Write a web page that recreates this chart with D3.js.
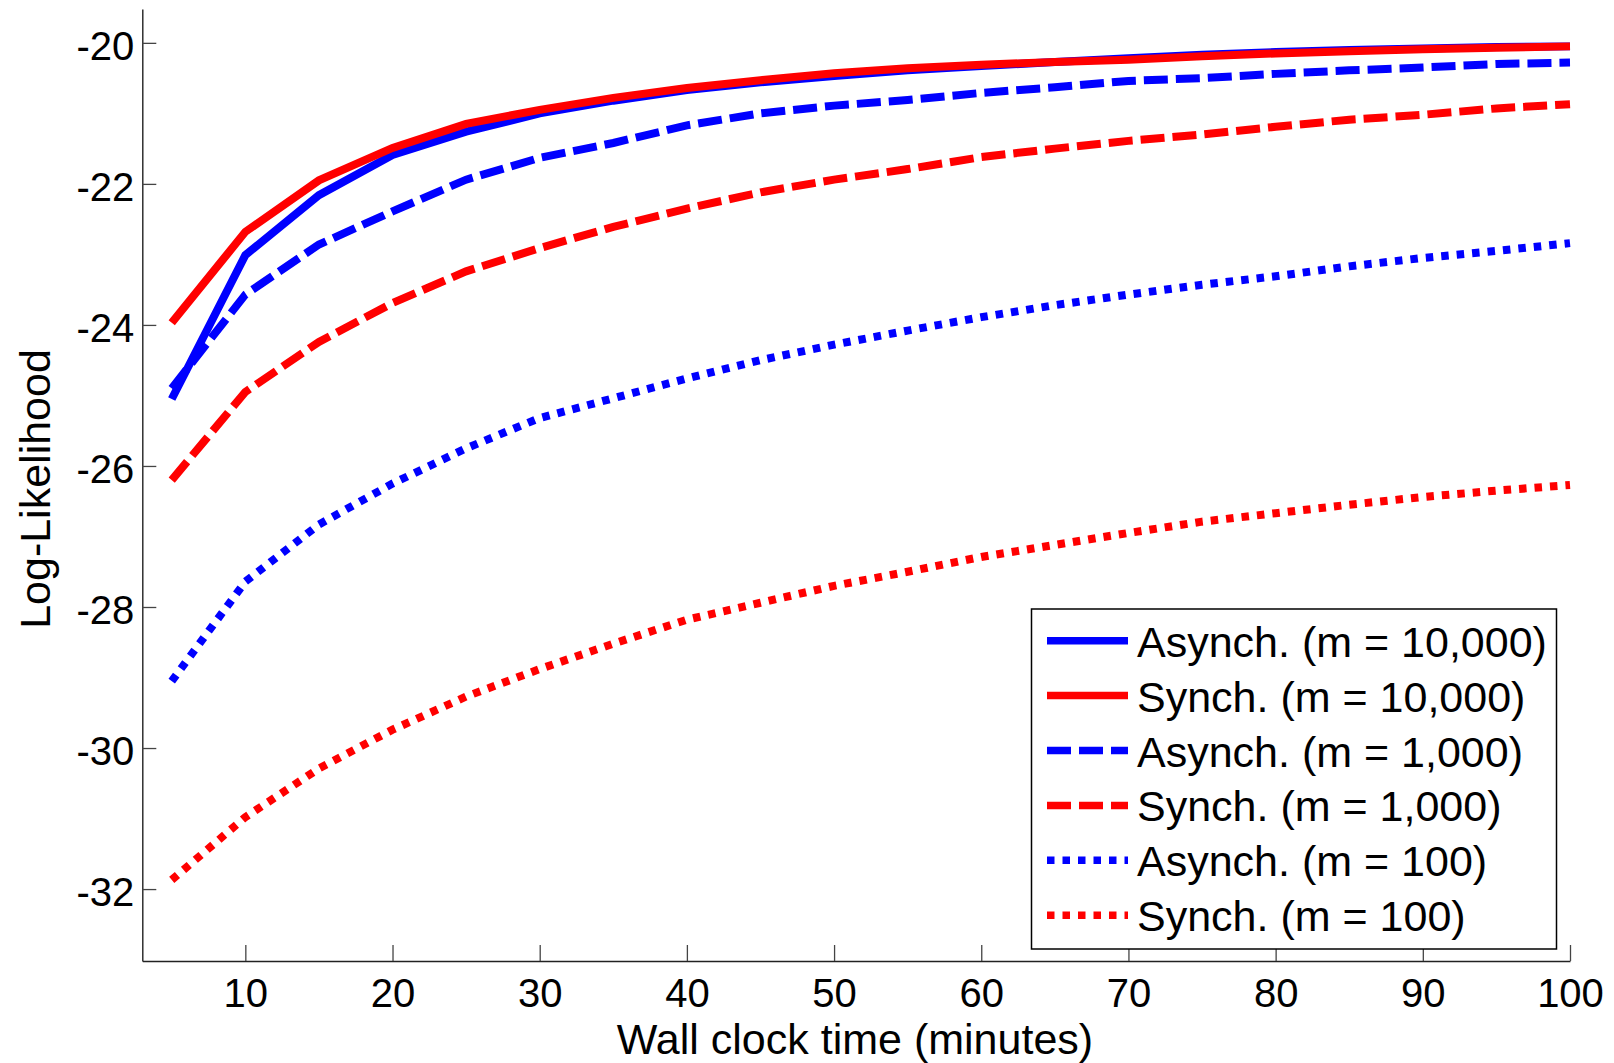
<!DOCTYPE html>
<html>
<head>
<meta charset="utf-8">
<script src="https://cdn.jsdelivr.net/npm/d3@7"></script>
<style>
	body { margin: 0; background: #fff; }
	svg { display: block; font-family: "Liberation Sans", Arial, sans-serif; }
</style>
</head>
<body>
<div id="chart"></div>
<script>
// chart data
var minutes = [5, 10, 15, 20, 25, 30, 35, 40, 45, 50, 55, 60, 65, 70, 75, 80, 85, 90, 95, 100];

var asyncM10000 = [-25.05, -23.01, -22.16, -21.59, -21.26, -21.00, -20.82, -20.67, -20.56, -20.47,
	-20.39, -20.33, -20.27, -20.22, -20.17, -20.13, -20.10, -20.08, -20.06, -20.05];
var syncM10000 = [-23.97, -22.68, -21.95, -21.49, -21.15, -20.95, -20.78, -20.64, -20.53, -20.43,
	-20.36, -20.31, -20.27, -20.24, -20.19, -20.15, -20.12, -20.09, -20.07, -20.05];
var asyncM1000 = [-24.90, -23.57, -22.86, -22.39, -21.94, -21.63, -21.42, -21.17, -21.00, -20.89,
	-20.81, -20.71, -20.63, -20.54, -20.50, -20.44, -20.39, -20.35, -20.30, -20.28];
var syncM1000 = [-26.20, -24.95, -24.24, -23.69, -23.24, -22.91, -22.61, -22.35, -22.12, -21.94,
	-21.79, -21.62, -21.50, -21.39, -21.30, -21.19, -21.09, -21.02, -20.93, -20.87];
var asyncM100 = [-29.05, -27.64, -26.83, -26.25, -25.75, -25.32, -25.04, -24.76, -24.50, -24.28,
	-24.08, -23.89, -23.72, -23.57, -23.43, -23.31, -23.17, -23.05, -22.95, -22.84];
var syncM100 = [-31.87, -30.98, -30.29, -29.74, -29.27, -28.88, -28.52, -28.18, -27.94, -27.70,
	-27.50, -27.29, -27.12, -26.95, -26.79, -26.67, -26.55, -26.44, -26.35, -26.27];

var seriesNames = ["Asynch. (m = 10,000)", "Synch. (m = 10,000)", "Asynch. (m = 1,000)",
	"Synch. (m = 1,000)", "Asynch. (m = 100)", "Synch. (m = 100)"];
var seriesValues = [asyncM10000, syncM10000, asyncM1000, syncM1000, asyncM100, syncM100];
var seriesColors = ["#0000ff", "#ff0000", "#0000ff", "#ff0000", "#0000ff", "#ff0000"];
var seriesStyles = ["solid", "solid", "dashed", "dashed", "dotted", "dotted"];

var xTicks = [10, 20, 30, 40, 50, 60, 70, 80, 90, 100];
var yTicks = [-20, -22, -24, -26, -28, -30, -32];

var xTitle = "Wall clock time (minutes)";
var yTitle = "Log-Likelihood";

var width = 1614,
	height = 1063,
	svg, x, y;

// dash patterns (plot lines and legend samples share them)
var dashes = { solid: null, dashed: "24,8", dotted: "7.5,8" };

function init() {
	svg = d3.select("#chart")
		.append("svg")
		.attr("width", width)
		.attr("height", height);

	x = d3.scaleLinear().domain([3, 100]).range([142.3, 1570]);
	y = d3.scaleLinear().domain([-33.02, -19.52]).range([961, 9]);

	drawAxes();
	drawLines();
	drawLegend();
}

function drawAxes() {
	var xAxis = d3.axisBottom(x)
		.tickValues(xTicks)
		.tickFormat(function(d) { return String(d); })
		.tickSizeInner(-16)
		.tickSizeOuter(0);

	var gx = svg.append("g")
		.attr("transform", "translate(0," + y.range()[0] + ")")
		.call(xAxis);

	gx.selectAll("text")
		.attr("y", 46)
		.attr("dy", null)
		.style("font-size", "40px")
		.style("fill", "#000");

	var yAxis = d3.axisLeft(y)
		.tickValues(yTicks)
		.tickFormat(function(d) { return String(d); })
		.tickSizeInner(-14)
		.tickSizeOuter(0);

	var gy = svg.append("g")
		.attr("transform", "translate(" + x.range()[0] + ",0)")
		.call(yAxis);

	gy.selectAll("text")
		.attr("x", -8)
		.attr("dy", "0.42em")
		.style("font-size", "40px")
		.style("fill", "#000");

	svg.selectAll(".domain")
		.attr("stroke", "#222")
		.attr("stroke-width", 1.4);
	svg.selectAll(".tick line")
		.attr("stroke", "#444")
		.attr("stroke-width", 1.3);

	// axis titles
	svg.append("text")
		.attr("x", 855)
		.attr("y", 1054)
		.attr("text-anchor", "middle")
		.style("font-size", "43px")
		.text(xTitle);

	svg.append("text")
		.attr("transform", "translate(50,489) rotate(-90)")
		.attr("text-anchor", "middle")
		.style("font-size", "43px")
		.text(yTitle);
}

function drawLines() {
	var line = d3.line()
		.x(function(d, i) { return x(minutes[i]); })
		.y(function(d) { return y(d); });

	var plot = svg.append("g");

	plot.selectAll(".series")
		.data(seriesValues)
		.enter().append("path")
		.attr("class", "series")
		.attr("d", line)
		.attr("fill", "none")
		.attr("stroke", function(d, i) { return seriesColors[i]; })
		.attr("stroke-width", 8)
		.attr("stroke-linecap", "butt")
		.attr("stroke-linejoin", "miter")
		.attr("stroke-dasharray", function(d, i) { return dashes[seriesStyles[i]]; });
}

function drawLegend() {
	var key = svg.append("g")
		.attr("transform", "translate(1031.5,609)");

	key.append("rect")
		.attr("width", 525)
		.attr("height", 340)
		.attr("fill", "#fff")
		.attr("stroke", "#000")
		.attr("stroke-width", 1.5);

	var rows = key.selectAll(".row")
		.data(seriesNames)
		.enter().append("g")
		.attr("class", "row")
		.attr("transform", function(d, i) { return "translate(0," + (31.7 + i * 54.9) + ")"; });

	rows.append("line")
		.attr("x1", 15.5)
		.attr("x2", 96.5)
		.attr("stroke", function(d, i) { return seriesColors[i]; })
		.attr("stroke-width", 7.5)
		.attr("stroke-dasharray", function(d, i) { return dashes[seriesStyles[i]]; });

	rows.append("text")
		.attr("x", 105.5)
		.attr("y", 16)
		.style("font-size", "43px")
		.text(function(d) { return d; });
}

window.onload = init;
</script>
</body>
</html>
